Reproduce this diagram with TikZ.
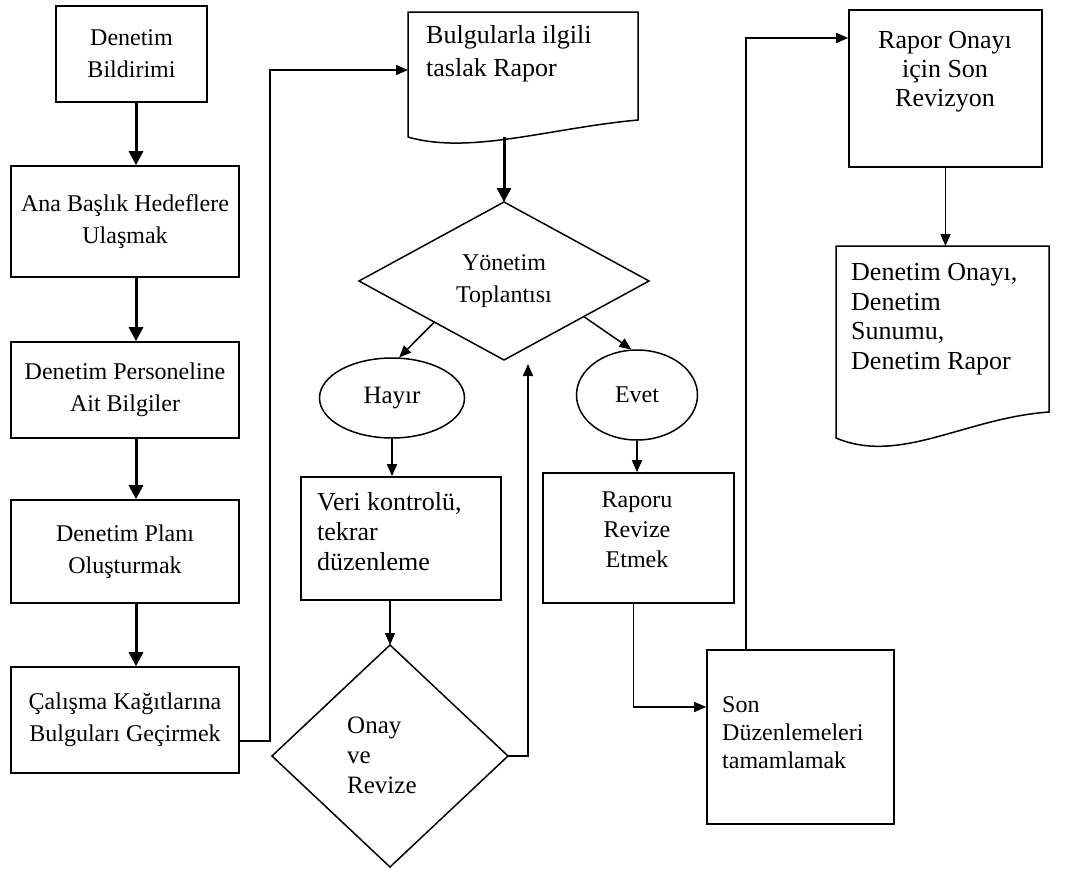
\documentclass[tikz,border=0pt]{standalone}
\usepackage{fontspec}
\setmainfont{Liberation Serif}
\usetikzlibrary{arrows.meta,calc,shapes.geometric}
\begin{document}
\begin{tikzpicture}[x=1pt,y=-1pt,
  box/.style={draw,line width=1.6pt,inner sep=0pt,align=center},
  shapeonly/.style={inner sep=0pt,outer sep=0pt},
  leftfont/.style={font=\fontsize{24}{32}\selectfont},
  txt/.style={inner sep=0pt,font=\fontsize{25}{30}\selectfont},
  oval/.style={draw,ellipse,line width=1.5pt,inner sep=0pt},
  thinarrow/.style={line width=1.5pt,-{Triangle[length=12pt,width=10pt]}},
  thickarrow/.style={line width=3pt,-{Triangle[length=14pt,width=14pt]}},
  outline/.style={line width=1.5pt,line join=miter}
]
\useasboundingbox (0,0) rectangle (1088,873);
\fill[white] (0,0) rectangle (1088,873);

% ---------- left column ----------
\node[box,leftfont,minimum width=151pt,minimum height=96pt] (n1) at (131.5,54) {Denetim\\Bildirimi};
\node[box,leftfont,minimum width=228pt,minimum height=111pt] (n2) at (125,221.5) {Ana Başlık Hedeflere\\Ulaşmak};
\node[box,leftfont,minimum width=228pt,minimum height=96pt] (n3) at (125,390) {Denetim Personeline\\Ait Bilgiler};
\node[box,leftfont,minimum width=228pt,minimum height=103pt] (n4) at (125,551.5) {Denetim Planı\\Oluşturmak};
\node[box,leftfont,minimum width=228pt,minimum height=106pt] (n5) at (125,720) {Çalışma Kağıtlarına\\Bulguları Geçirmek};

\coordinate (ax) at (136,0);
\draw[thickarrow] (n1.south -| ax) -- (n2.north -| ax);
\draw[thickarrow] (n2.south -| ax) -- (n3.north -| ax);
\draw[thickarrow] (n3.south -| ax) -- (n4.north -| ax);
\draw[thickarrow] (n4.south -| ax) -- (n5.north -| ax);

% ---------- draft report (document shape) ----------
\node[shapeonly,minimum width=230pt,minimum height=125pt] (draft) at (523,74.5) {};
\draw[outline] (draft.south west) -- (draft.north west) -- (draft.north east)
  -- ([yshift=17pt]draft.south east)
  .. controls ($(draft.south west)+(142,-9)$) and ($(draft.south west)+(62,18)$) .. (draft.south west) -- cycle;
\node[txt,align=left,anchor=west,font=\fontsize{26}{33}\selectfont] (draftt) at (426,54) {Bulgularla ilgili\\taslak Rapor};

\coordinate (j1) at (270,70);
\draw[thinarrow] ([yshift=-21pt]n5.east) -| (j1) -- (j1 -| draft.west);

% ---------- management meeting decision ----------
\node[shapeonly,minimum width=290pt,minimum height=158pt,font=\fontsize{24}{32}\selectfont,align=center] (d1) at (504,281) {Yönetim\\Toplantısı};
\draw[outline] (d1.north) -- (d1.east) -- (d1.south) -- (d1.west) -- cycle;
\draw[thickarrow] (d1.north |- draft.south) -- (d1.north);

\node[oval,minimum width=145pt,minimum height=80pt,font=\fontsize{25}{30}\selectfont] (h1) at (392,398) {Hayır};
\node[oval,minimum width=121pt,minimum height=90pt,font=\fontsize{24}{30}\selectfont] (e1) at (637,395) {Evet};
\draw[thinarrow] ($(d1.west)!0.52!(d1.south)$) -- (h1.80);
\draw[thinarrow] ($(d1.east)!0.45!(d1.south)$) -- (e1.97);

% ---------- "no" branch ----------
\node[box,minimum width=200pt,minimum height=123pt] (v1) at (401,538.5) {};
\node[txt,align=left,anchor=west,font=\fontsize{26}{30}\selectfont] (vt) at (317,532) {Veri kontrolü,\\tekrar\\düzenleme};
\draw[thinarrow] (h1.south) -- (h1.south |- v1.north);

\node[shapeonly,minimum width=236pt,minimum height=222pt] (o1) at (390,756) {};
\draw[outline] (o1.north) -- (o1.east) -- (o1.south) -- (o1.west) -- cycle;
\node[txt,align=left,anchor=west] (ot) at (347,755) {Onay\\ve\\Revize};
\draw[thinarrow] (v1.south -| o1.north) -- (o1.north);
\coordinate (j2) at (528,364);
\draw[thinarrow] (o1.east) -| (j2);

% ---------- "yes" branch ----------
\node[box,minimum width=191pt,minimum height=130pt] (r1) at (638.5,538) {};
\node[txt,align=center,font=\fontsize{24}{30}\selectfont] (rt) at (637,530) {Raporu\\Revize\\Etmek};
\draw[thinarrow] (e1.south) -- (e1.south |- r1.north);

\node[box,minimum width=187pt,minimum height=174pt] (s1) at (800.5,737) {};
\node[txt,align=left,anchor=west,font=\fontsize{24}{28}\selectfont] (st) at (722,733) {Son\\Düzenlemeleri\\tamamlamak};
\draw[thinarrow] ([xshift=-5pt]r1.south) |- ([yshift=30pt]s1.west);

% ---------- final revision and outputs ----------
\node[box,minimum width=193pt,minimum height=157pt] (ro) at (945.5,88.5) {};
\node[txt,align=center,font=\fontsize{26}{29}\selectfont] (rot) at (945,72) {Rapor Onayı\\için Son\\Revizyon};
\coordinate (j3) at (746,38);
\draw[thinarrow] (s1.north -| j3) -- (j3) -- (j3 -| ro.west);

\node[shapeonly,minimum width=213pt,minimum height=192pt] (d2) at (942.5,342) {};
\draw[outline] (d2.south west) -- (d2.north west) -- (d2.north east)
  -- ([yshift=26pt]d2.south east)
  .. controls ($(d2.south west)+(129,-20)$) and ($(d2.south west)+(64,27)$) .. (d2.south west) -- cycle;
\node[txt,align=left,anchor=west,font=\fontsize{26}{29.5}\selectfont] (d2t) at (851,319) {Denetim Onayı,\\Denetim\\Sunumu,\\Denetim Rapor};
\draw[thinarrow] (ro.south) -- (ro.south |- d2.north);
\end{tikzpicture}
\end{document}
